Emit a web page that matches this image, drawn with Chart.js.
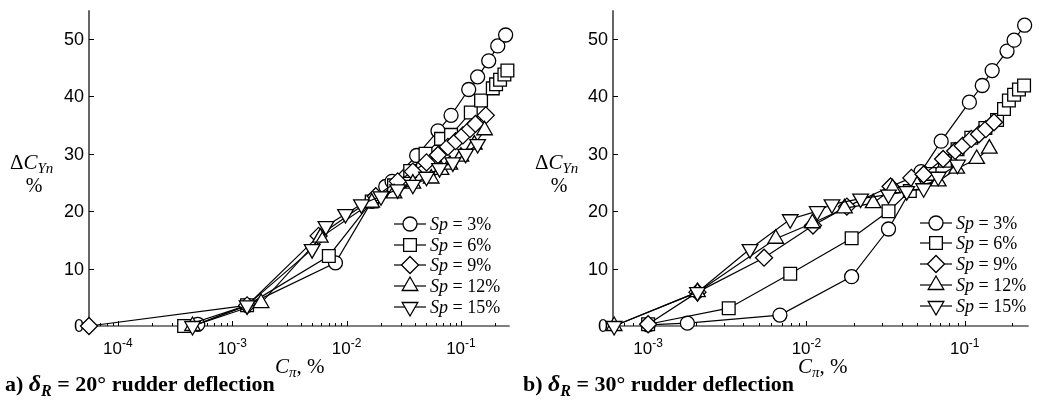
<!DOCTYPE html>
<html>
<head>
<meta charset="utf-8">
<script src="https://cdn.jsdelivr.net/npm/chart.js@4/dist/chart.umd.min.js"></script>
<style>
  body { margin: 0; background: #fff; width: 1039px; height: 412px; position: relative; overflow: hidden; }
  canvas { position: absolute; top: 0; }
  #chartA { left: 0; }
  #chartB { left: 520px; }
</style>
</head>
<body>
<canvas id="chartA" width="520" height="412"></canvas>
<canvas id="chartB" width="519" height="412"></canvas>
<script>
// tick labels
const yTicks = [0, 10, 20, 30, 40, 50];
const xExpA = [-4, -3, -2, -1];
const xExpB = [-3, -2, -1];
const spNames = ['3%', '6%', '9%', '12%', '15%'];

// a) delta_R = 20 deg
const a_sp3_x = [5e-4, 1.35e-3, 8e-3, 1.66e-2, 2.2e-2, 2.5e-2, 4.1e-2, 6.3e-2, 8.2e-2, 0.117, 0.14, 0.175, 0.21, 0.246];
const a_sp3_y = [0.3, 3.6, 11.0, 21.7, 24.3, 25.2, 29.7, 34.0, 36.7, 41.2, 43.4, 46.2, 48.8, 50.7];
const a_sp6_x = [3.8e-4, 1.35e-3, 7e-3, 1.66e-2, 2.6e-2, 3.6e-2, 4.9e-2, 6.7e-2, 8.2e-2, 0.122, 0.15, 0.19, 0.203, 0.22, 0.24, 0.255];
const a_sp6_y = [0, 3.6, 12.2, 21.7, 24.5, 27.0, 30.0, 32.6, 33.3, 37.2, 39.3, 41.4, 42.1, 42.9, 43.8, 44.5];
const a_sp9_x = [5.6e-5, 1.35e-3, 5.7e-3, 1.8e-2, 2.8e-2, 3.8e-2, 5e-2, 6.3e-2, 7.7e-2, 0.09, 0.104, 0.12, 0.134, 0.165];
const a_sp9_y = [0, 3.6, 15.7, 22.6, 25.2, 26.9, 28.5, 29.8, 31.2, 32.2, 33.2, 34.3, 35.2, 36.7];
const a_sp12_x = [4.5e-4, 1.79e-3, 5.9e-3, 1.66e-2, 2.6e-2, 3.8e-2, 5.5e-2, 6.7e-2, 8e-2, 0.1, 0.131, 0.161];
const a_sp12_y = [0, 4.0, 15.4, 21.5, 23.1, 24.8, 25.7, 27.2, 28.1, 29.5, 31.6, 34.1];
const a_sp15_x = [4.5e-4, 1.35e-3, 5e-3, 6.6e-3, 9.8e-3, 1.35e-2, 2e-2, 2.8e-2, 3.8e-2, 5e-2, 6.5e-2, 8.5e-2, 0.11, 0.14];
const a_sp15_y = [0, 3.6, 13.4, 17.4, 19.5, 21.2, 22.6, 23.8, 24.6, 26.0, 27.5, 28.5, 30.0, 31.7];

// b) delta_R = 30 deg
const b_sp3_x = [1e-3, 1.77e-3, 6.8e-3, 1.93e-2, 3.3e-2, 5.3e-2, 7.1e-2, 0.107, 0.129, 0.149, 0.185, 0.205, 0.239];
const b_sp3_y = [0.2, 0.5, 1.9, 8.6, 16.9, 26.9, 32.2, 39.0, 41.9, 44.5, 47.9, 49.8, 52.4];
const b_sp6_x = [1e-3, 3.23e-3, 7.9e-3, 1.93e-2, 3.3e-2, 4.5e-2, 6e-2, 7.5e-2, 9e-2, 0.11, 0.135, 0.16, 0.177, 0.19, 0.205, 0.22, 0.237];
const b_sp6_y = [0.3, 3.1, 9.1, 15.3, 20.0, 23.5, 26.5, 28.8, 30.8, 32.8, 34.5, 35.9, 37.8, 39.3, 40.3, 41.2, 41.9];
const b_sp9_x = [1e-3, 2.05e-3, 5.4e-3, 1.1e-2, 1.8e-2, 3.4e-2, 4.6e-2, 5.5e-2, 7.3e-2, 8.7e-2, 0.097, 0.11, 0.123, 0.136, 0.153];
const b_sp9_y = [0.3, 5.9, 11.9, 17.5, 20.8, 24.3, 25.8, 26.4, 29.1, 30.5, 31.4, 32.6, 33.4, 34.3, 35.5];
const b_sp12_x = [6.1e-4, 2.05e-3, 6.4e-3, 1.09e-2, 1.74e-2, 2.64e-2, 3.5e-2, 5e-2, 6.8e-2, 8.9e-2, 0.119, 0.143];
const b_sp12_y = [0, 5.9, 15.2, 17.9, 20.5, 21.4, 24.0, 24.5, 25.2, 27.4, 29.1, 30.9];
const b_sp15_x = [6.1e-4, 2.05e-3, 4.4e-3, 7.9e-3, 1.17e-2, 1.45e-2, 2.2e-2, 3.3e-2, 4.3e-2, 5.5e-2, 6.8e-2, 9e-2];
const b_sp15_y = [0, 5.9, 13.4, 18.6, 20.0, 21.2, 22.2, 22.9, 23.5, 24.0, 26.0, 28.1];

const SERIF = '"Liberation Serif", "DejaVu Serif", serif';
const SANS = '"Liberation Sans", Arial, sans-serif';

// marker look for each Sp value
const markers = [
  { pointStyle: 'circle', radius: 7, rotation: 0 },
  { pointStyle: 'rect', radius: 9, rotation: 0 },
  { pointStyle: 'rectRot', radius: 8.5, rotation: 0 },
  { pointStyle: 'triangle', radius: 9, rotation: 0 },
  { pointStyle: 'triangle', radius: 9, rotation: 180 }
];

function toPoints(xs, ys) {
  return xs.map((x, i) => ({ x: x, y: ys[i] }));
}

// draw a row of text pieces with different fonts
function drawRuns(ctx, x, y, runs) {
  ctx.textAlign = 'left';
  ctx.textBaseline = 'alphabetic';
  runs.forEach(r => {
    ctx.font = r.font;
    ctx.fillText(r.t, x, y + (r.dy || 0));
    x += ctx.measureText(r.t).width;
  });
  return x;
}

function drawMarker(ctx, m, x, y) {
  ctx.fillStyle = '#fff';
  ctx.strokeStyle = '#000';
  ctx.lineWidth = 1.3;
  Chart.helpers.drawPoint(ctx, { pointStyle: m.pointStyle, radius: m.radius, rotation: m.rotation, borderWidth: 1.3 }, x, y);
}

const decor = {
  id: 'decor',
  beforeDatasetsDraw(chart, args, opts) {
    const ctx = chart.ctx;
    const a = chart.chartArea;
    const x = chart.scales.x, y = chart.scales.y;
    ctx.save();
    ctx.strokeStyle = '#000';
    ctx.lineWidth = 1.2;
    ctx.beginPath();
    ctx.moveTo(a.left, a.top);
    ctx.lineTo(a.left, a.bottom);
    ctx.lineTo(a.right, a.bottom);
    ctx.stroke();

    // inward ticks
    ctx.lineWidth = 1;
    ctx.beginPath();
    for (let e = -5; e <= 0; e++) {
      for (let m = 1; m <= 9; m++) {
        const v = m * Math.pow(10, e);
        if (v < x.min || v > x.max) continue;
        const px = Math.round(x.getPixelForValue(v)) + 0.5;
        ctx.moveTo(px, a.bottom);
        ctx.lineTo(px, a.bottom - (m === 1 ? 5 : 3));
      }
    }
    yTicks.forEach(v => {
      const py = Math.round(y.getPixelForValue(v)) + 0.5;
      ctx.moveTo(a.left, py);
      ctx.lineTo(a.left + 5, py);
    });
    ctx.stroke();

    // tick labels
    ctx.fillStyle = '#000';
    ctx.font = '18px ' + SANS;
    ctx.textAlign = 'right';
    ctx.textBaseline = 'middle';
    yTicks.forEach(v => ctx.fillText(String(v), a.left - 5, y.getPixelForValue(v) + 1));

    opts.xExp.forEach(e => {
      const px = x.getPixelForValue(Math.pow(10, e));
      ctx.font = '17px ' + SANS;
      const w1 = ctx.measureText('10').width;
      ctx.font = '12px ' + SANS;
      const w2 = ctx.measureText(String(e)).width;
      const x0 = px - (w1 + w2) / 2;
      drawRuns(ctx, x0, a.bottom + 28, [
        { t: '10', font: '17px ' + SANS },
        { t: String(e), font: '12px ' + SANS, dy: -7 }
      ]);
    });
    ctx.restore();
  },
  afterDraw(chart, args, opts) {
    const ctx = chart.ctx;
    ctx.save();
    ctx.fillStyle = '#000';
    ctx.strokeStyle = '#000';

    // legend
    chart.data.datasets.forEach((ds, i) => {
      const ly = opts.legendY[i];
      ctx.lineWidth = 1.2;
      ctx.beginPath();
      ctx.moveTo(opts.legendX - 16, ly);
      ctx.lineTo(opts.legendX + 16, ly);
      ctx.stroke();
      drawMarker(ctx, markers[i], opts.legendX, ly);
      ctx.fillStyle = '#000';
      drawRuns(ctx, opts.legendX + 20, ly + 6, [
        { t: 'Sp', font: 'italic 18px ' + SERIF },
        { t: ' = ' + spNames[i], font: '18px ' + SERIF }
      ]);
    });

    // axis titles
    const yx = opts.yTitleX;
    drawRuns(ctx, yx, 169, [
      { t: 'Δ', font: '21px ' + SERIF },
      { t: 'C', font: 'italic 21px ' + SERIF },
      { t: 'Yn', font: 'italic 15px ' + SERIF, dy: 4 }
    ]);
    ctx.font = '20px ' + SERIF;
    ctx.textAlign = 'center';
    ctx.fillText('%', yx + 24, 192);

    drawRuns(ctx, opts.xTitleX, 373, [
      { t: 'C', font: 'italic 21px ' + SERIF },
      { t: 'π', font: 'italic 15px ' + SERIF, dy: 4 },
      { t: ', %', font: '21px ' + SERIF }
    ]);

    // caption
    drawRuns(ctx, opts.capX, 391, [
      { t: opts.capLetter + ' ', font: 'bold 22px ' + SERIF },
      { t: 'δ', font: 'bold italic 24px ' + SERIF },
      { t: 'R', font: 'bold italic 16px ' + SERIF, dy: 5 },
      { t: ' = ' + opts.capAngle + '° rudder deflection', font: 'bold 22px ' + SERIF }
    ]);
    ctx.restore();
  }
};

function makeChart(id, series, xmin, xmax, pad, decorOpts) {
  const datasets = series.map((s, i) => ({
    label: 'Sp = ' + spNames[i],
    data: toPoints(s[0], s[1]),
    borderColor: '#000',
    borderWidth: 1.2,
    backgroundColor: '#fff',
    pointBackgroundColor: '#fff',
    pointBorderColor: '#000',
    pointBorderWidth: 1.3,
    pointStyle: markers[i].pointStyle,
    pointRadius: markers[i].radius,
    pointRotation: markers[i].rotation,
    tension: 0,
    clip: false,
    order: 4 - i
  }));
  return new Chart(document.getElementById(id), {
    type: 'line',
    data: { datasets: datasets },
    options: {
      responsive: false,
      animation: false,
      devicePixelRatio: 1,
      events: [],
      layout: { padding: pad },
      scales: {
        x: { type: 'logarithmic', min: xmin, max: xmax, display: false },
        y: { type: 'linear', min: 0, max: 55, display: false }
      },
      plugins: {
        legend: { display: false },
        tooltip: { enabled: false },
        decor: decorOpts
      }
    },
    plugins: [decor]
  });
}

makeChart('chartA', [
  [a_sp3_x, a_sp3_y], [a_sp6_x, a_sp6_y], [a_sp9_x, a_sp9_y], [a_sp12_x, a_sp12_y], [a_sp15_x, a_sp15_y]
], 5.6e-5, 0.267, { left: 89, right: 8, top: 7, bottom: 86 }, {
  xExp: xExpA, legendX: 410, legendY: [224, 245, 265, 286, 307],
  yTitleX: 10, xTitleX: 275, capX: 5, capLetter: 'a)', capAngle: '20'
});

makeChart('chartB', [
  [b_sp3_x, b_sp3_y], [b_sp6_x, b_sp6_y], [b_sp9_x, b_sp9_y], [b_sp12_x, b_sp12_y], [b_sp15_x, b_sp15_y]
], 6.07e-4, 0.2535, { left: 93, right: 4, top: 7, bottom: 86 }, {
  xExp: xExpB, legendX: 416, legendY: [223, 243, 264, 285, 306],
  yTitleX: 15, xTitleX: 278, capX: 3, capLetter: 'b)', capAngle: '30'
});
</script>
</body>
</html>
